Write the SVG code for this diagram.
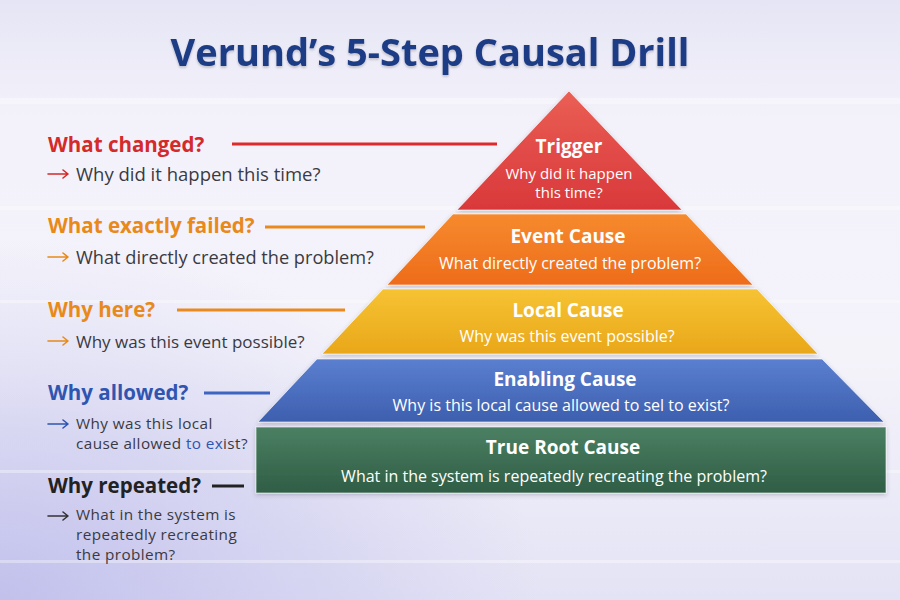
<svg xmlns="http://www.w3.org/2000/svg" width="900" height="600" viewBox="0 0 900 600">
<defs>
<linearGradient id="bg" x1="0" y1="0" x2="0" y2="1">
<stop offset="0" stop-color="#e6e5f5"/>
<stop offset="0.2" stop-color="#f3f2fa"/>
<stop offset="0.6" stop-color="#f4f3fa"/>
<stop offset="1" stop-color="#e4e3f5"/>
</linearGradient>
<radialGradient id="bgl" cx="0" cy="1" r="0.6">
<stop offset="0" stop-color="#b9b8ea" stop-opacity="0.8"/>
<stop offset="1" stop-color="#b9b8ea" stop-opacity="0"/>
</radialGradient>
<linearGradient id="gRed" x1="0" y1="0" x2="0" y2="1">
<stop offset="0" stop-color="#ea5f55"/><stop offset="1" stop-color="#d9383a"/>
</linearGradient>
<linearGradient id="gOra" x1="0" y1="0" x2="0" y2="1">
<stop offset="0" stop-color="#f68a2e"/><stop offset="1" stop-color="#ee6c1a"/>
</linearGradient>
<linearGradient id="gYel" x1="0" y1="0" x2="0" y2="1">
<stop offset="0" stop-color="#f6c333"/><stop offset="1" stop-color="#e9a71a"/>
</linearGradient>
<linearGradient id="gBlu" x1="0" y1="0" x2="0" y2="1">
<stop offset="0" stop-color="#5b7fd0"/><stop offset="1" stop-color="#3d5fae"/>
</linearGradient>
<linearGradient id="gGrn" x1="0" y1="0" x2="0" y2="1">
<stop offset="0" stop-color="#4b8063"/><stop offset="1" stop-color="#2f5d45"/>
</linearGradient>
<filter id="sh" x="-10%" y="-10%" width="120%" height="130%">
<feDropShadow dx="0" dy="2" stdDeviation="2" flood-color="#334" flood-opacity="0.25"/>
</filter>
<filter id="tsh" x="-5%" y="-20%" width="110%" height="150%">
<feDropShadow dx="0" dy="1.5" stdDeviation="1" flood-color="#223" flood-opacity="0.25"/>
</filter>
</defs>
<style>
.title{font-family:"Open Sans","Noto Sans","Liberation Sans",sans-serif;font-weight:700;font-size:38px;fill:#1f3d85}
.hd{font-family:"Open Sans","Noto Sans","Liberation Sans",sans-serif;font-weight:700;font-size:20.5px}
.sub{font-family:"Open Sans","Noto Sans","Liberation Sans",sans-serif;font-size:17px;fill:#3a3a42}
.ml{font-size:15.3px;letter-spacing:0.4px}
.tt{font-family:"Open Sans","Noto Sans","Liberation Sans",sans-serif;font-weight:700;font-size:19px;fill:#fff;text-anchor:middle}
.ts{font-family:"Open Sans","Noto Sans","Liberation Sans",sans-serif;font-size:16px;fill:#fff;text-anchor:middle}
.ln{stroke-width:3;fill:none}
.ar{stroke-width:1.6;fill:none;stroke-linecap:round;stroke-linejoin:round}
.tier{stroke:#ffffff;stroke-opacity:0.6;stroke-width:1;filter:url(#sh)}
</style>
<rect width="900" height="600" fill="url(#bg)"/>
<rect width="900" height="600" fill="url(#bgl)"/>
<g fill="#ffffff" opacity="0.35">
<rect x="0" y="98" width="900" height="6"/>
<rect x="0" y="206" width="900" height="4"/>
<rect x="0" y="300" width="900" height="3"/>
<rect x="0" y="470" width="900" height="3"/>
<rect x="0" y="560" width="900" height="3"/>
</g>

<text class="title" x="430" y="66" text-anchor="middle" filter="url(#tsh)">Verund’s 5-Step Causal Drill</text>

<g id="connectors">
<line class="ln" x1="232" y1="144" x2="497" y2="144" stroke="#dd2a2a"/>
<line class="ln" x1="265" y1="227" x2="425" y2="227" stroke="#ea8a1e"/>
<line class="ln" x1="177" y1="310" x2="345" y2="310" stroke="#ea8a1e"/>
<line class="ln" x1="204" y1="393" x2="270" y2="393" stroke="#3d63c3"/>
<line class="ln" x1="212" y1="486" x2="244" y2="486" stroke="#222"/>
</g>

<g id="tier-trigger">
<polygon class="tier" points="569,91 682,210 457,210" fill="url(#gRed)"/>
<text class="tt" x="569" y="153">Trigger</text>
<text class="ts" x="569" y="179" style="font-size:15px"><tspan x="569" y="179">Why did it happen</tspan><tspan x="569" y="198">this time?</tspan></text>
</g>
<g id="tier-event">
<polygon class="tier" points="453,214 686,214 753,285 387,285" fill="url(#gOra)"/>
<text class="tt" x="568" y="243">Event Cause</text>
<text class="ts" x="570" y="269">What directly created the problem?</text>
</g>
<g id="tier-local">
<polygon class="tier" points="383,289 757,289 818,354 322,354" fill="url(#gYel)"/>
<text class="tt" x="568" y="317">Local Cause</text>
<text class="ts" x="567" y="342">Why was this event possible?</text>
</g>
<g id="tier-enabling">
<polygon class="tier" points="317,359 822,359 884,422 258,422" fill="url(#gBlu)"/>
<text class="tt" x="565" y="386">Enabling Cause</text>
<text class="ts" x="561" y="411">Why is this local cause allowed to sel to exist?</text>
</g>
<g id="tier-root">
<rect class="tier" x="256" y="427" width="630" height="66" fill="url(#gGrn)"/>
<text class="tt" x="563" y="454">True Root Cause</text>
<text class="ts" x="554" y="482">What in the system is repeatedly recreating the problem?</text>
</g>

<g id="q-changed">
<text class="hd" x="48" y="152" fill="#d42a2a">What changed?</text>
<path class="ar" d="M48 174 H68 M63 170 L68 174 L63 178" stroke="#d42a2a"/>
<text class="sub" x="76" y="181" style="font-size:18.5px">Why did it happen this time?</text>
</g>
<g id="q-failed">
<text class="hd" x="48" y="233" fill="#e8891a">What exactly failed?</text>
<path class="ar" d="M48 257 H68 M63 253 L68 257 L63 261" stroke="#e8891a"/>
<text class="sub" x="76" y="264" style="font-size:18.2px">What directly created the problem?</text>
</g>
<g id="q-here">
<text class="hd" x="48" y="317" fill="#e8891a">Why here?</text>
<path class="ar" d="M48 341 H68 M63 337 L68 341 L63 345" stroke="#e8891a"/>
<text class="sub" x="76" y="348">Why was this event possible?</text>
</g>
<g id="q-allowed">
<text class="hd" x="48" y="400" fill="#2f55b0">Why allowed?</text>
<path class="ar" d="M48 424 H68 M63 420 L68 424 L63 428" stroke="#2f55b0"/>
<text class="sub ml" x="76" y="429"><tspan x="76" y="428.5">Why was this local</tspan><tspan x="76" y="448.5">cause allowed <tspan fill="#2f55b0">to ex</tspan>ist?</tspan></text>
</g>
<g id="q-repeated">
<text class="hd" x="48" y="493" fill="#222">Why repeated?</text>
<path class="ar" d="M48 516 H68 M63 512 L68 516 L63 520" stroke="#333"/>
<text class="sub ml" x="76" y="521"><tspan x="76" y="520">What in the system is</tspan><tspan x="76" y="540">repeatedly recreating</tspan><tspan x="76" y="560">the problem?</tspan></text>
</g>
</svg>
